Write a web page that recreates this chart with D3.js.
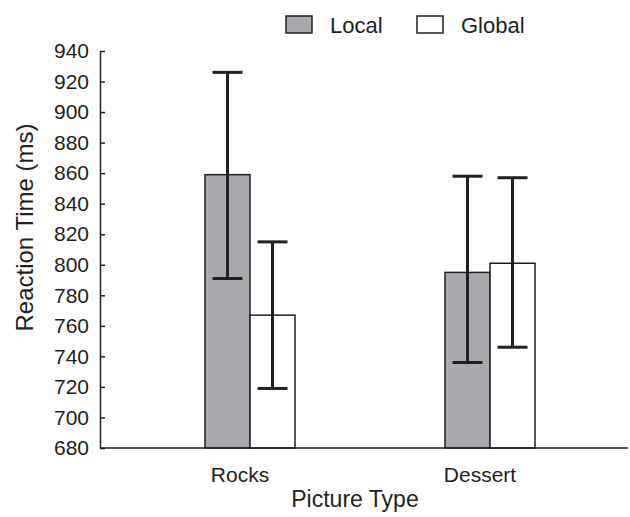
<!DOCTYPE html>
<html>
<head>
    <meta charset="utf-8">
    <style>
        body { margin: 0; background: #fff; }
        svg { font-family: 'Liberation Sans', Arial, sans-serif; }
        .y .domain { stroke: #231f20; stroke-width: 1.5px; }
        .y .tick line { stroke: #231f20; stroke-width: 1.5px; }
        .y .tick text { font-size: 21px; fill: #231f20; }
    </style>
</head>
<body>
<svg width="630" height="517"></svg>
<script src="https://d3js.org/d3.v7.min.js"></script>
<script>
    // data
    let categories = ["Rocks", "Dessert"]
    let series = ["Local", "Global"]
    let means = [[859, 767], [795, 801]]       // [category][series]
    let errLow = [[791, 719], [736, 746]]
    let errHigh = [[926, 815], [858, 857]]
    let yTicks = [680, 700, 720, 740, 760, 780, 800, 820, 840, 860, 880, 900, 920, 940]
    let colors = { Local: "#a7a9ac", Global: "#ffffff" }

    let svg = d3.select("svg")
    let margin = { top: 51, right: 2, bottom: 69, left: 100 }
    let width = 630, height = 517

    let y = d3.scaleLinear()
        .domain([680, 940])
        .range([height - margin.bottom, margin.top])

    let x0 = d3.scaleBand()
        .domain(categories)
        .range([130, 610])

    let x1 = d3.scaleBand()
        .domain(series)
        .range([0, 90])

    let rows = []
    categories.forEach(function (c, i) {
        series.forEach(function (s, j) {
            rows.push({ cat: c, ser: s, v: means[i][j], lo: errLow[i][j], hi: errHigh[i][j] })
        })
    })

    let barOffset = x0.bandwidth() / 2 - 45

    // bars
    svg.append("g")
        .selectAll("rect")
        .data(rows)
        .join("rect")
        .attr("x", d => x0(d.cat) + barOffset + x1(d.ser))
        .attr("y", d => y(d.v))
        .attr("width", x1.bandwidth())
        .attr("height", d => y(680) - y(d.v))
        .style("fill", d => colors[d.ser])
        .style("stroke", "#231f20")
        .style("stroke-width", "1.5px")

    // error bars
    let eb = svg.append("g")
        .selectAll("g")
        .data(rows)
        .join("g")
        .attr("transform", d => `translate(${x0(d.cat) + barOffset + x1(d.ser) + x1.bandwidth() / 2},0)`)
        .style("stroke", "#231f20")
        .style("stroke-width", "3px")

    eb.append("line")
        .attr("y1", d => y(d.lo))
        .attr("y2", d => y(d.hi))
    eb.append("line")
        .attr("x1", -15).attr("x2", 15)
        .attr("y1", d => y(d.hi)).attr("y2", d => y(d.hi))
    eb.append("line")
        .attr("x1", -15).attr("x2", 15)
        .attr("y1", d => y(d.lo)).attr("y2", d => y(d.lo))

    // y axis, ticks pointing inward
    let yAxis = d3.axisLeft(y)
        .tickValues(yTicks)
        .tickSize(-5)
        .tickSizeOuter(0)
        .tickPadding(11)

    svg.append("g")
        .attr("class", "y axis")
        .attr("transform", `translate(${margin.left},0)`)
        .call(yAxis)

    // x baseline
    svg.append("line")
        .attr("x1", margin.left)
        .attr("x2", width - margin.right)
        .attr("y1", y(680))
        .attr("y2", y(680))
        .style("stroke", "#231f20")
        .style("stroke-width", "1.5px")

    // category labels
    svg.append("g")
        .selectAll("text")
        .data(categories)
        .join("text")
        .attr("x", d => x0(d) + x0.bandwidth() / 2 - 10)
        .attr("y", 482)
        .attr("text-anchor", "middle")
        .style("font-size", "21px")
        .style("fill", "#231f20")
        .text(d => d)

    svg.append("text")
        .attr("x", 355)
        .attr("y", 507)
        .attr("text-anchor", "middle")
        .style("font-size", "23px")
        .style("fill", "#231f20")
        .text("Picture Type")

    svg.append("text")
        .attr("transform", `translate(33,${(y(680) + y(940)) / 2 - 22}) rotate(-90)`)
        .attr("text-anchor", "middle")
        .style("font-size", "24px")
        .style("fill", "#231f20")
        .text("Reaction Time (ms)")

    // legend
    let legX = d3.scalePoint().domain(series).range([286, 417])
    let leg = svg.append("g")
        .selectAll("g")
        .data(series)
        .join("g")
        .attr("transform", d => `translate(${legX(d)},16)`)

    leg.append("rect")
        .attr("width", 26)
        .attr("height", 17)
        .style("fill", d => colors[d])
        .style("stroke", "#231f20")
        .style("stroke-width", "1.5px")

    leg.append("text")
        .attr("x", 44)
        .attr("y", 16.5)
        .style("font-size", "22px")
        .style("fill", "#231f20")
        .text(d => d)
</script>
</body>
</html>
